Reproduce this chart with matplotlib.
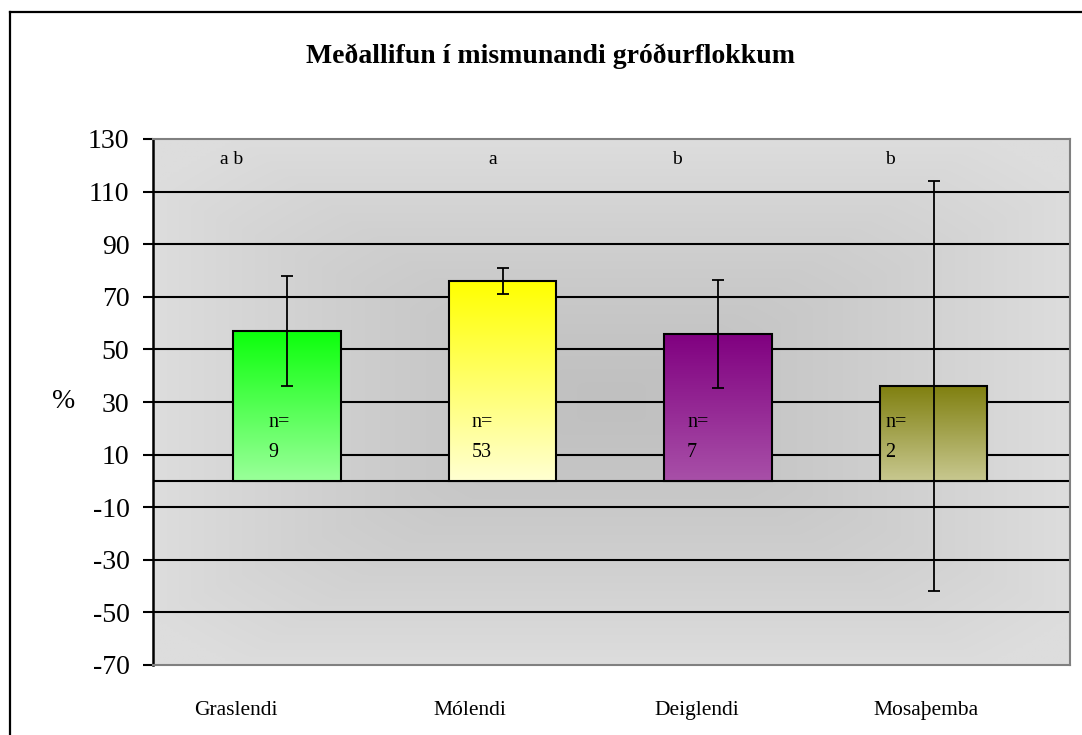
import numpy as np
import matplotlib
matplotlib.use("Agg")
import matplotlib.pyplot as plt
from matplotlib.colors import LinearSegmentedColormap, to_rgb
from matplotlib.lines import Line2D

plt.rcParams['font.family'] = ['Liberation Serif', 'DejaVu Serif']

# ---- data ----
categories = ["Graslendi", "Mólendi", "Deiglendi", "Mosaþemba"]
means = [57, 76, 56, 36]
errors = [21, 5, 20.5, 78]
n_values = [9, 53, 7, 2]
group_letters = ["a b", "a", "b", "b"]
title = "Meðallifun í mismunandi gróðurflokkum"
yticks = list(range(-70, 131, 20))

# ---- styles ----
top_colors = ["#0CFF0C", "#FFFF00", "#800080", "#808010"]
bottom_colors = ["#9AFF9A", "#FFFFD2", "#A850A8", "#C8C890"]
label_offsets = [-0.237, -0.15, -0.10, -0.035]
letter_offsets = [-0.311, -0.067, -0.213, -0.225]
n_offsets = [-0.088, -0.142, -0.144, -0.223]

fig = plt.figure(figsize=(10.82, 7.35), dpi=100)
ax = fig.add_axes([153/1082, 1-665/735, (1070-153)/1082, (665-139)/735])

x = np.arange(len(categories))
xlim = (-0.622, 3.633)
ylim = (-70, 130)

# background gradient (darker centre, lighter edges)
ny, nx = 200, 300
u = np.linspace(-1, 1, nx)
v = np.linspace(-1, 1, ny)
U, V = np.meshgrid(u, v)
d = np.sqrt(np.abs(U)**2 * 0.6 + np.abs(V)**2 * 0.6)
d = np.clip(np.maximum(d, np.maximum(np.abs(U), np.abs(V))), 0, 1) ** 1.3
dark = np.array(to_rgb("#C0C0C0"))
light = np.array(to_rgb("#DDDDDD"))
bg = dark[None, None, :] + (light - dark)[None, None, :] * d[:, :, None]
ax.imshow(bg, extent=[xlim[0], xlim[1], ylim[0], ylim[1]], aspect='auto',
          zorder=0, interpolation='bilinear')

# gridlines
for t in yticks[1:-1]:
    ax.axhline(t, color='black', lw=1.5, zorder=1)
ax.axhline(0, color='black', lw=1.5, zorder=1)

# bars
bars = ax.bar(x, means, width=0.5, facecolor='none', edgecolor='black',
              linewidth=1.5, zorder=3)
for b, tc, bc in zip(bars, top_colors, bottom_colors):
    cmap = LinearSegmentedColormap.from_list("g", [bc, tc])
    grad = np.linspace(0, 1, 256).reshape(-1, 1)
    x0, y0 = b.get_x(), b.get_y()
    w, h = b.get_width(), b.get_height()
    ax.imshow(grad, extent=[x0, x0 + w, y0, y0 + h], origin='lower',
              aspect='auto', cmap=cmap, zorder=2, interpolation='bilinear')

# error bars
ax.errorbar(x, means, yerr=errors, fmt='none', ecolor='black', elinewidth=1.3,
            capsize=4.5, capthick=1.3, zorder=4)

# annotations
for i in range(len(categories)):
    ax.text(x[i] + letter_offsets[i], 120.5, group_letters[i], fontsize=14,
            ha='left', va='baseline', zorder=5)
    ax.text(x[i] + n_offsets[i], 20.5, "n=", fontsize=14.5, ha='left',
            va='baseline', zorder=5)
    ax.text(x[i] + n_offsets[i], 9.2, str(n_values[i]), fontsize=14.5,
            ha='left', va='baseline', zorder=5)

ax.set_xlim(*xlim)
ax.set_ylim(*ylim)
ax.set_yticks(yticks)
ax.set_yticklabels([str(t) for t in yticks], fontsize=20)
ax.tick_params(axis='y', length=7, width=1.5, pad=10, direction='out')
ax.set_xticks(x + np.array(label_offsets))
ax.set_xticklabels(categories, fontsize=15.5)
ax.tick_params(axis='x', length=0, pad=26)

ax.set_ylabel('%', rotation=0, fontsize=20, va='center', ha='center')
ax.yaxis.set_label_coords(-0.098, 0.5)

for side in ['top', 'right', 'bottom']:
    ax.spines[side].set_color('#808080')
    ax.spines[side].set_linewidth(1.5)
ax.spines['left'].set_color('black')
ax.spines['left'].set_linewidth(1.8)

fig.text(550/1082, 1-63/735, title, fontsize=20, fontweight='bold',
         ha='center', va='baseline')

# outer frame (left and top edges)
fig.add_artist(Line2D([10/1082, 10/1082], [0, 1-12/735], transform=fig.transFigure,
                      color='black', lw=1.6))
fig.add_artist(Line2D([10/1082, 1], [1-12/735, 1-12/735], transform=fig.transFigure,
                      color='black', lw=1.6))

fig.savefig("out.png", dpi=100)
